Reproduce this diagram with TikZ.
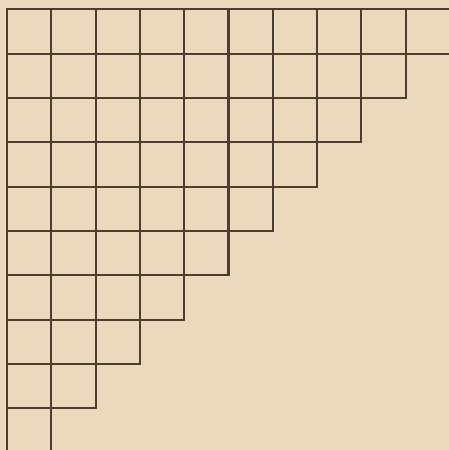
\documentclass[tikz,border=0pt]{standalone}
\usepackage{xcolor}
\usepackage{tikz}
\usetikzlibrary{positioning}
\definecolor{paperbeige}{HTML}{EBD9BE}
\definecolor{inkbrown}{HTML}{4A3F30}

\begin{document}
\begin{tikzpicture}[
  x=1cm, y=-1cm,
  gridline/.style={draw=inkbrown, line width=1.3pt, line cap=rect}
]
\fill[paperbeige] (-0.158,-0.214) rectangle (9.977,9.944);
\useasboundingbox (-0.158,-0.214) rectangle (9.977,9.944);
\clip (-0.158,-0.214) rectangle (9.977,9.944);
\foreach \i in {0,...,9} {
  \pgfmathsetmacro{\runend}{11-\i}
  \draw[gridline] (\i,0) -- (\i,\runend);
  \draw[gridline] (0,\i) -- (\runend,\i);
}
\end{tikzpicture}
\end{document}
